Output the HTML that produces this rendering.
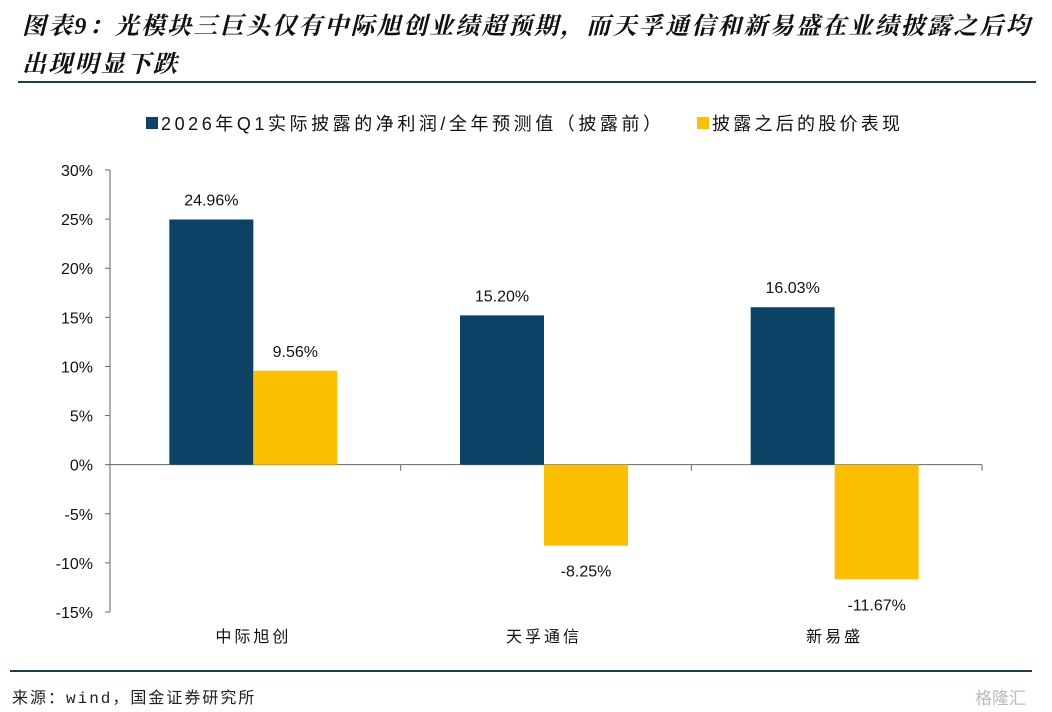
<!DOCTYPE html>
<html><head><meta charset="utf-8"><style>
body{margin:0;background:#fff;width:1052px;height:712px;overflow:hidden;font-family:"Liberation Sans","Noto Sans CJK SC",sans-serif}
.t{position:absolute;left:22px;font-size:24px;font-weight:bold;font-style:italic;color:#111;font-family:"Liberation Serif","Noto Serif CJK SC",serif;letter-spacing:2.2px;white-space:nowrap}
</style></head><body>
<div class="t" style="top:6px">图表9：光模块三巨头仅有中际旭创业绩超预期，而天孚通信和新易盛在业绩披露之后均</div>
<div class="t" style="top:44px">出现明显下跌</div>
<div style="position:absolute;left:18px;top:81px;width:1018px;height:2px;background:#1c3d4a"></div>
<svg id="c" width="1052" height="712" style="position:absolute;left:0;top:0"></svg>
<div style="position:absolute;left:10px;top:670px;width:1022px;height:2px;background:#1c3d4a"></div>
<div style="position:absolute;left:12px;top:684px;font-size:16px;letter-spacing:2px;color:#222;font-family:'Liberation Mono','Noto Sans CJK SC',monospace">来源：wind，国金证券研究所</div>
<div style="position:absolute;left:975px;top:684px;font-size:17px;color:#bbb">格隆汇</div>
<script>
const categories=["中际旭创","天孚通信","新易盛"];
const profitRatio=[24.96,15.20,16.03];
const priceChange=[9.56,-8.25,-11.67];
const tickValues=[30,25,20,15,10,5,0,-5,-10,-15];
const seriesNames=["2026年Q1实际披露的净利润/全年预测值（披露前）","披露之后的股价表现"];
const colors=["#0b4266","#fdc000"];
const ns="http://www.w3.org/2000/svg",svg=document.getElementById("c");
const x0=110,x1=982,yTop=170,yBot=612;
const y=v=>yTop+(30-v)/45*(yBot-yTop);
const cw=(x1-x0)/categories.length,bw=84;
function mk(t,a,txt){const e=document.createElementNS(ns,t);for(const k in a)e.setAttribute(k,a[k]);if(txt!==undefined)e.textContent=txt;svg.appendChild(e);return e;}
let e=mk("line",{x1:x0,x2:x0,y1:yTop,y2:yBot,stroke:"#666"});

tickValues.forEach(v=>{
 const l=mk("line",{x1:x0-5,x2:x0,y1:y(v),y2:y(v),stroke:"#666"});
 
 const t=mk("text",{x:x0-17,y:y(v)+6,"text-anchor":"end","font-size":16,fill:"#111"},v+"%");
 
});
e=mk("line",{x1:x0,x2:x1,y1:y(0),y2:y(0),stroke:"#666"});

for(let i=0;i<=categories.length;i++){const l=mk("line",{x1:x0+i*cw,x2:x0+i*cw,y1:y(0),y2:y(0)+6,stroke:"#666"});
 }
categories.forEach((c,i)=>{
 const cx=x0+cw*(i+0.5)-2;
 [profitRatio[i],priceChange[i]].forEach((v,s)=>{
  const r=mk("rect",{x:cx-bw+s*bw,y:Math.min(y(v),y(0)),width:bw,height:Math.abs(y(v)-y(0)),fill:colors[s]});
  
  const ly=v>=0?y(v)-14:y(v)+31;
  const t=mk("text",{x:cx-bw/2+s*bw,y:ly,"text-anchor":"middle","font-size":16,fill:"#111"},v.toFixed(2)+"%");
  
 });
 const t=mk("text",{x:cx,y:642,"text-anchor":"middle","font-size":16,"letter-spacing":3,fill:"#111"},c);
 
});
const lx=[146,697],lw=[500,188];
seriesNames.forEach((n,s)=>{
 const r=mk("rect",{x:lx[s],y:117,width:12,height:12,fill:colors[s]});
 
 const t=mk("text",{x:lx[s]+15,y:130,"font-size":18,fill:"#111",textLength:lw[s],lengthAdjust:"spacing"},n);
 
});
</script>
</body></html>
